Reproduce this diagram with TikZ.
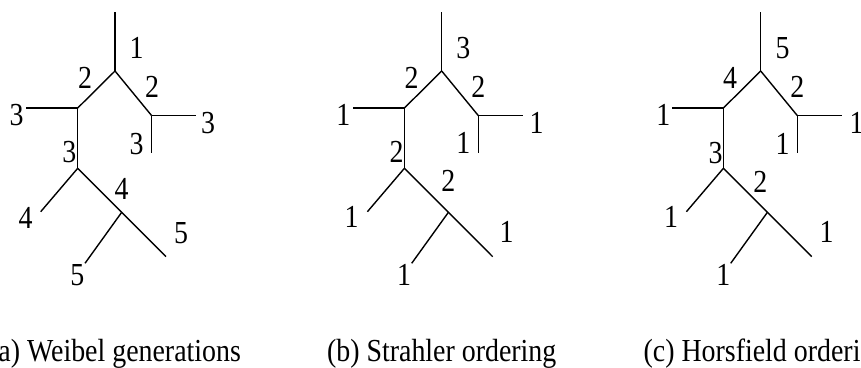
\documentclass[tikz,border=0pt]{standalone}
\usepackage{graphicx}
\usepackage{fontspec}
\setmainfont{Liberation Serif}
\newcommand\talltext[1]{\scalebox{1}[1.15]{#1}}
\tikzset{
  branch/.style={line width=1.4bp, black},
  lbl/.style={inner sep=0pt, anchor=center, font=\fontsize{28}{30}\selectfont},
  captext/.style={inner sep=0pt, anchor=base, font=\fontsize{28}{30}\selectfont},
}
\newcommand\airwaytree[1]{%
  \begin{scope}[xshift=#1]
    \coordinate (T) at (0,12);
    \coordinate (R) at (0,71);
    \coordinate (L) at (-37.3,108);
    \coordinate (LL) at (-89,108);
    \coordinate (Rj) at (36.7,115.7);
    \coordinate (RR) at (81,115.7);
    \coordinate (RD) at (36.7,152.7);
    \coordinate (M) at (-37.3,168.3);
    \coordinate (ML) at (-74.3,211.7);
    \coordinate (N) at (6.7,212.3);
    \coordinate (NR) at (51,256.7);
    \coordinate (NL) at (-30,263.3);
    \draw[branch] (T) -- (R);
    \draw[branch] (R) -- (L);
    \draw[branch] (R) -- (Rj);
    \draw[branch] (L) -- (LL);
    \draw[branch] (Rj) -- (RR);
    \draw[branch] (Rj) -- (RD);
    \draw[branch] (L) -- (M);
    \draw[branch] (M) -- (ML);
    \draw[branch] (M) -- (N);
    \draw[branch] (N) -- (NR);
    \draw[branch] (N) -- (NL);
  \end{scope}}
\begin{document}
\begin{tikzpicture}[x=1bp,y=-1bp]
\useasboundingbox (0,0) rectangle (861,367);
% tree (a)
\airwaytree{115bp}
\node[lbl] (a1) at (136.7,48.3) {\talltext{1}};
\node[lbl] (a2) at (85,78) {\talltext{2}};
\node[lbl] (a3) at (152,87) {\talltext{2}};
\node[lbl] (a4) at (16.7,115) {\talltext{3}};
\node[lbl] (a5) at (208,123) {\talltext{3}};
\node[lbl] (a6) at (136.7,144) {\talltext{3}};
\node[lbl] (a7) at (69.3,151.7) {\talltext{3}};
\node[lbl] (a8) at (121.7,189) {\talltext{4}};
\node[lbl] (a9) at (25.7,218.3) {\talltext{4}};
\node[lbl] (a10) at (181,233.3) {\talltext{5}};
\node[lbl] (a11) at (77.3,275) {\talltext{5}};
\node[captext] (acap) at (115,361) {\talltext{(a) Weibel generations}};
% tree (b)
\airwaytree{441.7bp}
\node[lbl] (b1) at (463.3,47.7) {\talltext{3}};
\node[lbl] (b2) at (411.7,78) {\talltext{2}};
\node[lbl] (b3) at (478.3,87) {\talltext{2}};
\node[lbl] (b4) at (343.3,115) {\talltext{1}};
\node[lbl] (b5) at (536.7,123) {\talltext{1}};
\node[lbl] (b6) at (463.3,143.3) {\talltext{1}};
\node[lbl] (b7) at (396.7,151.7) {\talltext{2}};
\node[lbl] (b8) at (448.3,180.7) {\talltext{2}};
\node[lbl] (b9) at (351.7,216.7) {\talltext{1}};
\node[lbl] (b10) at (506.7,231.7) {\talltext{1}};
\node[lbl] (b11) at (404,275) {\talltext{1}};
\node[captext] (bcap) at (441.7,361) {\talltext{(b) Strahler ordering}};
% tree (c)
\airwaytree{760.7bp}
\node[lbl] (c1) at (782.7,47.7) {\talltext{5}};
\node[lbl] (c2) at (730,78) {\talltext{4}};
\node[lbl] (c3) at (797.3,87.3) {\talltext{2}};
\node[lbl] (c4) at (663.3,115) {\talltext{1}};
\node[lbl] (c5) at (856.7,123) {\talltext{1}};
\node[lbl] (c6) at (782.7,144) {\talltext{1}};
\node[lbl] (c7) at (715.7,152.7) {\talltext{3}};
\node[lbl] (c8) at (760.3,182) {\talltext{2}};
\node[lbl] (c9) at (671,216.7) {\talltext{1}};
\node[lbl] (c10) at (826.7,231.7) {\talltext{1}};
\node[lbl] (c11) at (723.3,275) {\talltext{1}};
\node[captext] (ccap) at (766,361) {\talltext{(c) Horsfield ordering}};
\end{tikzpicture}
\end{document}
